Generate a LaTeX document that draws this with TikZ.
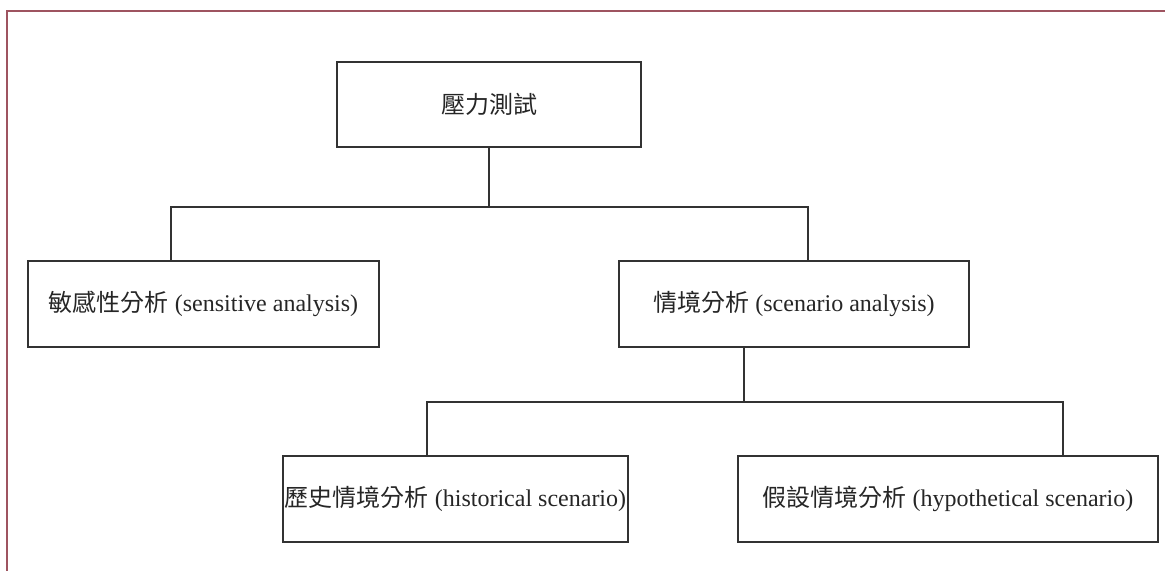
\documentclass[tikz,border=0pt]{standalone}
\usepackage{fontspec}
\setmainfont{Liberation Serif}
\newfontfamily\cjk{Noto Sans CJK TC}
\definecolor{framec}{RGB}{158,84,96}
\definecolor{linec}{RGB}{50,50,50}
\begin{document}
\begin{tikzpicture}[x=1bp,y=-1bp,
  box/.style={draw=linec,line width=1.6bp,rectangle,inner sep=0pt,minimum height=86bp,
    font=\fontsize{24bp}{28bp}\selectfont,text=black!85},
  conn/.style={draw=linec,line width=1.6bp}]
\useasboundingbox (0,0) rectangle (1165,571);
\fill[white] (0,0) rectangle (1165,571);
\draw[framec,line width=2bp] (7,575) -- (7,11) -- (1170,11);
\node[box,minimum width=304bp,minimum height=85bp] (top) at (489,104.5) {{\cjk 壓力測試}};
\node[box,minimum width=351bp] (sens) at (203.5,304) {{\cjk 敏感性分析} (sensitive analysis)};
\node[box,minimum width=350bp] (scen) at (794,304) {{\cjk 情境分析} (scenario analysis)};
\node[box,minimum width=345bp] (hist) at (455.5,499) {{\cjk 歷史情境分析} (historical scenario)};
\node[box,minimum width=420bp] (hypo) at (948,499) {{\cjk 假設情境分析} (hypothetical scenario)};
\coordinate (b1) at (489,207);
\coordinate (b1l) at (171,207);
\coordinate (b1r) at (808,207);
\coordinate (b2) at (744,402);
\coordinate (b2l) at (427,402);
\coordinate (b2r) at (1063,402);
\draw[conn] (top.south) -- (b1);
\draw[conn] (b1l |- sens.north) -- (b1l) -- (b1r) -- (b1r |- scen.north);
\draw[conn] (b2 |- scen.south) -- (b2);
\draw[conn] (b2l |- hist.north) -- (b2l) -- (b2r) -- (b2r |- hypo.north);
\end{tikzpicture}
\end{document}
